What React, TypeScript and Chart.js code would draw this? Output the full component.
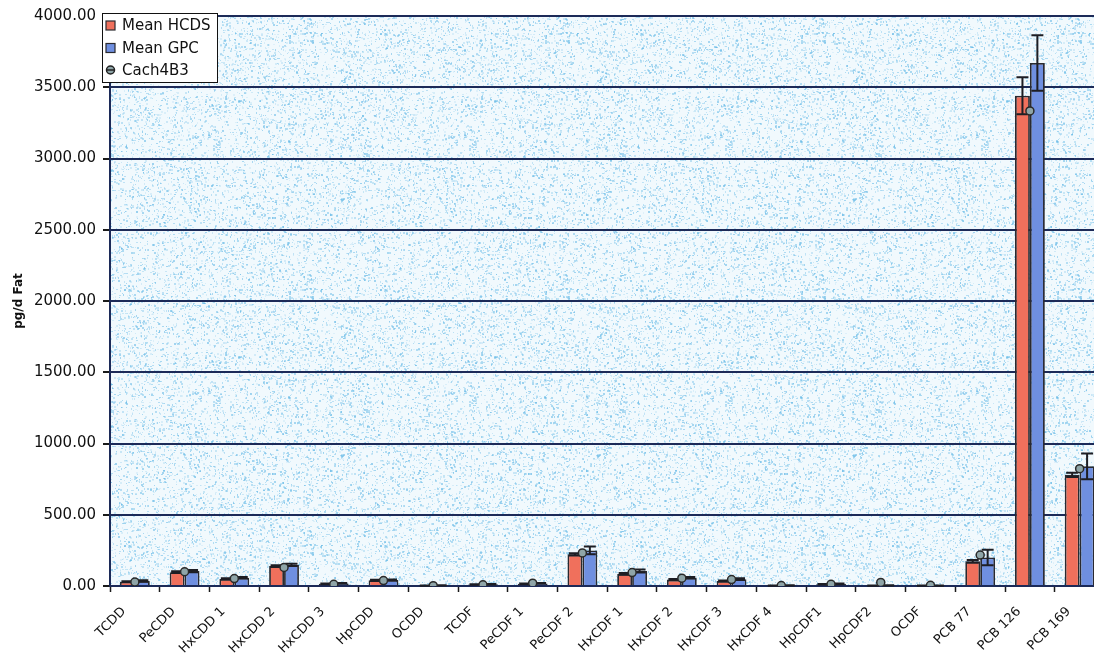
import { useEffect, useRef } from "react";
import { Chart, registerables } from "chart.js";

Chart.register(...registerables);

const categories = [
  "TCDD", "PeCDD", "HxCDD 1", "HxCDD 2", "HxCDD 3", "HpCDD", "OCDD", "TCDF",
  "PeCDF 1", "PeCDF 2", "HxCDF 1", "HxCDF 2", "HxCDF 3", "HxCDF 4", "HpCDF1",
  "HpCDF2", "OCDF", "PCB 77", "PCB 126", "PCB 169",
];
const meanHCDS = [30, 97, 50, 140, 15, 40, 3, 10, 15, 222, 85, 45, 35, 3, 12, 3, 2, 173, 3440, 780];
const meanGPC = [35, 105, 58, 148, 18, 42, 4, 12, 18, 250, 105, 58, 48, 4, 15, 4, 3, 200, 3670, 840];
const errHCDS = [4, 6, 4, 6, 3, 4, 1, 2, 2, 8, 6, 4, 4, 1, 2, 1, 1, 10, 130, 15];
const errGPC = [5, 8, 5, 8, 3, 4, 1, 2, 3, 28, 10, 6, 6, 1, 2, 1, 1, 55, 195, 90];
const cach4B3 = [28, 100, 52, 130, 12, 38, 2, 8, 20, 232, 94, 55, 45, 3, 12, 25, 5, 217, 3334, 823];

const seriesNames = ["Mean HCDS", "Mean GPC", "Cach4B3"];
const RED = "#f0705c";
const BLUE = "#6f8fe0";
const EDGE = "#2a2a30";
const GRID = "#1c2a58";
const MARK_FILL = "#8fa5a8";

function makeTexture(ctx: CanvasRenderingContext2D) {
  const c = document.createElement("canvas");
  c.width = 256;
  c.height = 256;
  const g = c.getContext("2d")!;
  g.fillStyle = "#f1f9fd";
  g.fillRect(0, 0, 256, 256);
  let s = 20240611;
  const next = () => {
    s = (Math.imul(s, 1664525) + 1013904223) >>> 0;
    return s / 4294967296;
  };
  for (let i = 0; i < 7000; i++) {
    const x = Math.floor(next() * 256);
    const y = Math.floor(next() * 256);
    const a = 0.12 + next() * 0.45;
    const w = 1 + Math.floor(next() * 2);
    const h = 1 + Math.floor(next() * 2);
    g.fillStyle = `rgba(100,185,230,${a.toFixed(3)})`;
    g.fillRect(x, y, w, h);
  }
  return ctx.createPattern(c, "repeat");
}

const plotBackground = {
  id: "plotBackground",
  beforeDatasetsDraw(chart: any) {
    const { ctx, chartArea } = chart;
    const pattern = makeTexture(ctx);
    ctx.save();
    ctx.globalCompositeOperation = "destination-over";
    ctx.fillStyle = pattern || "#e8f4fb";
    ctx.fillRect(chartArea.left, chartArea.top, chartArea.right - chartArea.left, chartArea.bottom - chartArea.top);
    ctx.restore();
  },
};

const errorBars = {
  id: "errorBars",
  afterDatasetDraw(chart: any, args: any) {
    const errs = args.index === 0 ? errHCDS : args.index === 1 ? errGPC : null;
    if (!errs) return;
    const values = args.index === 0 ? meanHCDS : meanGPC;
    const { ctx } = chart;
    const yScale = chart.scales.y;
    ctx.save();
    ctx.strokeStyle = "#1e1e24";
    ctx.lineWidth = 2;
    args.meta.data.forEach((bar: any, i: number) => {
      const e = errs[i];
      const yTop = yScale.getPixelForValue(values[i] + e);
      const yBot = yScale.getPixelForValue(values[i] - e);
      const x = bar.x;
      const half = 6;
      ctx.beginPath();
      ctx.moveTo(x, yTop);
      ctx.lineTo(x, yBot);
      ctx.moveTo(x - half, yTop);
      ctx.lineTo(x + half, yTop);
      ctx.moveTo(x - half, yBot);
      ctx.lineTo(x + half, yBot);
      ctx.stroke();
    });
    ctx.restore();
  },
};

const boxLegend = {
  id: "boxLegend",
  afterDraw(chart: any) {
    const { ctx } = chart;
    const x0 = 102.5;
    const y0 = 13.5;
    const w = 115;
    const h = 69;
    ctx.save();
    ctx.fillStyle = "#ffffff";
    ctx.fillRect(x0, y0, w, h);
    ctx.strokeStyle = "#111";
    ctx.lineWidth = 1;
    ctx.strokeRect(x0, y0, w, h);
    const rows = [25.5, 48, 70];
    const colors = [RED, BLUE];
    ctx.font = "15px 'DejaVu Sans'";
    ctx.textBaseline = "middle";
    ctx.textAlign = "left";
    rows.forEach((cy, i) => {
      if (i < 2) {
        ctx.fillStyle = colors[i];
        ctx.fillRect(106, cy - 4.5, 9, 9);
        ctx.strokeStyle = EDGE;
        ctx.lineWidth = 1.2;
        ctx.strokeRect(106, cy - 4.5, 9, 9);
      } else {
        ctx.beginPath();
        ctx.arc(110.5, cy, 4, 0, Math.PI * 2);
        ctx.fillStyle = MARK_FILL;
        ctx.fill();
        ctx.strokeStyle = "#222";
        ctx.lineWidth = 1.5;
        ctx.stroke();
        ctx.beginPath();
        ctx.moveTo(106, cy);
        ctx.lineTo(115, cy);
        ctx.stroke();
      }
      ctx.fillStyle = "#111";
      ctx.fillText(seriesNames[i], 122, cy + 1);
    });
    ctx.restore();
  },
};

export default function App() {
  const ref = useRef<HTMLCanvasElement | null>(null);

  useEffect(() => {
    if (!ref.current) return;
    const chart = new Chart(ref.current, {
      type: "bar",
      data: {
        labels: categories,
        datasets: [
          {
            label: seriesNames[0],
            data: meanHCDS,
            backgroundColor: RED,
            borderColor: EDGE,
            borderWidth: 1.8,
            categoryPercentage: 0.6,
            barPercentage: 1.0,
            order: 1,
          },
          {
            label: seriesNames[1],
            data: meanGPC,
            backgroundColor: BLUE,
            borderColor: EDGE,
            borderWidth: 1.8,
            categoryPercentage: 0.6,
            barPercentage: 1.0,
            order: 1,
          },
          {
            type: "line",
            label: seriesNames[2],
            data: cach4B3,
            showLine: false,
            pointRadius: 4,
            pointBackgroundColor: MARK_FILL,
            pointBorderColor: "#2a2a2a",
            pointBorderWidth: 1.5,
            order: 0,
          } as any,
        ],
      },
      options: {
        responsive: false,
        animation: false,
        layout: { padding: { left: 0, top: 14, right: 5, bottom: 0 } },
        plugins: {
          legend: { display: false },
          tooltip: { enabled: false },
        },
        scales: {
          x: {
            grid: {
              drawOnChartArea: false,
              drawTicks: true,
              tickLength: 6,
              tickWidth: 1.5,
              tickColor: "#1a1a1a",
              offset: true,
            },
            border: { color: GRID, width: 2 },
            ticks: {
              autoSkip: false,
              maxRotation: 45,
              minRotation: 45,
              padding: 12,
              labelOffset: -11,
              color: "#111",
              font: { family: "'DejaVu Sans'", size: 13 },
            },
            afterFit: (s: any) => {
              s.height = 67;
            },
          },
          y: {
            min: 0,
            max: 4000,
            ticks: {
              stepSize: 500,
              padding: 7,
              color: "#111",
              font: { family: "'DejaVu Sans'", size: 15 },
              callback: (v: any) => Number(v).toFixed(2),
            },
            grid: {
              color: GRID,
              lineWidth: 2,
              tickLength: 7,
              tickColor: "#1a1a1a",
            },
            border: { color: GRID, width: 2 },
            title: {
              display: true,
              text: "pg/d Fat",
              color: "#111",
              font: { family: "'DejaVu Sans'", size: 12, weight: "bold" },
              padding: { top: 12, bottom: 0 },
            },
            afterFit: (s: any) => {
              s.width = 110;
            },
          },
        },
      },
      plugins: [plotBackground, errorBars, boxLegend],
    });
    return () => chart.destroy();
  }, []);

  return (
    <div
      style={{
        position: "fixed",
        left: 0,
        top: 0,
        width: 1094,
        height: 653,
        overflow: "hidden",
        background: "#ffffff",
      }}
    >
      <canvas ref={ref} width={1110} height={653} style={{ display: "block" }} />
    </div>
  );
}
